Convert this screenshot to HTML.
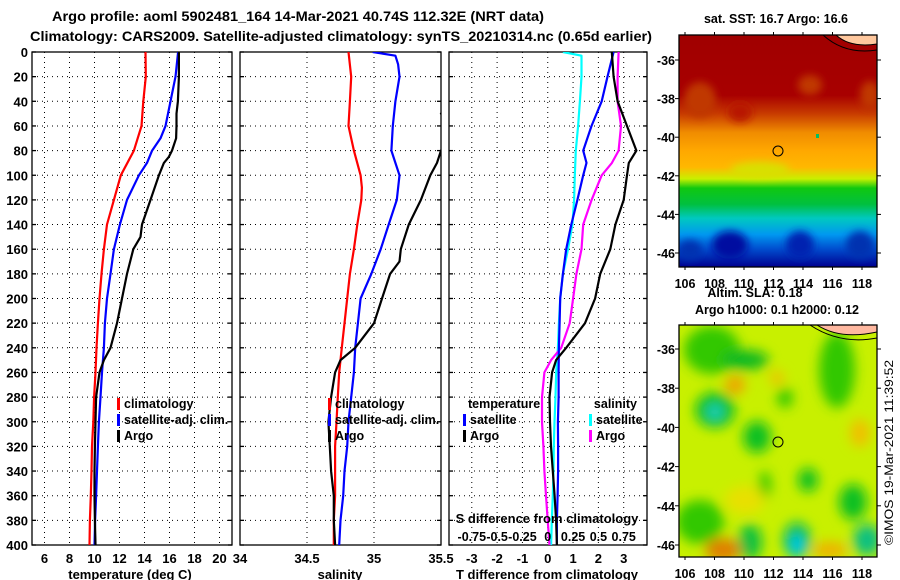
<!DOCTYPE html>
<html><head><meta charset="utf-8">
<style>
html,body{margin:0;padding:0;background:#fff;}
svg{display:block;font-family:"Liberation Sans",Arial,sans-serif;font-weight:bold;}
</style></head>
<body>
<svg id="chart" width="900" height="580" viewBox="0 0 900 580" xmlns="http://www.w3.org/2000/svg">
<defs>
  <clipPath id="c1"><rect x="32" y="52" width="200" height="493"/></clipPath>
  <clipPath id="c2"><rect x="240" y="52" width="201" height="493"/></clipPath>
  <clipPath id="c3"><rect x="449" y="52" width="198" height="493"/></clipPath>
  <clipPath id="cm1"><rect x="679" y="35" width="198" height="232"/></clipPath>
  <clipPath id="cm2"><rect x="679" y="325" width="198" height="232"/></clipPath>
  <linearGradient id="sstg" x1="0" y1="0" x2="0" y2="1">
    <stop offset="0" stop-color="#a00000"/>
    <stop offset="0.26" stop-color="#a80000"/>
    <stop offset="0.34" stop-color="#c83c00"/>
    <stop offset="0.42" stop-color="#f08c00"/>
    <stop offset="0.50" stop-color="#ffa800"/>
    <stop offset="0.57" stop-color="#ffb800"/>
    <stop offset="0.62" stop-color="#c8f000"/>
    <stop offset="0.66" stop-color="#10c810"/>
    <stop offset="0.73" stop-color="#00c040"/>
    <stop offset="0.79" stop-color="#00c8c0"/>
    <stop offset="0.86" stop-color="#0098f0"/>
    <stop offset="0.92" stop-color="#0050d0"/>
    <stop offset="1" stop-color="#000090"/>
  </linearGradient>
  <filter id="blur" x="-50%" y="-50%" width="200%" height="200%"><feGaussianBlur stdDeviation="6"/></filter>
  <filter id="blur2" x="-50%" y="-50%" width="200%" height="200%"><feGaussianBlur stdDeviation="4"/></filter>
</defs>

<text x="298" y="21" font-size="14" text-anchor="middle" textLength="492" lengthAdjust="spacingAndGlyphs">Argo profile: aoml 5902481_164 14-Mar-2021 40.74S 112.32E (NRT data)</text>
<text x="30" y="41" font-size="14" textLength="622" lengthAdjust="spacingAndGlyphs">Climatology: CARS2009. Satellite-adjusted climatology: synTS_20210314.nc (0.65d earlier)</text>

<g id="panels"></g>

<!-- SST map -->
<g>
  <text x="776" y="23" font-size="12.5" text-anchor="middle">sat. SST: 16.7 Argo: 16.6</text>
  <g clip-path="url(#cm1)">
    <rect x="679" y="35" width="198" height="232" fill="url(#sstg)"/>
    <g filter="url(#blur2)">
      <ellipse cx="700" cy="100" rx="16" ry="18" fill="#c03800"/>
      <ellipse cx="740" cy="112" rx="12" ry="10" fill="#b81800"/>
      <ellipse cx="810" cy="85" rx="12" ry="10" fill="#c03800"/>
      <ellipse cx="870" cy="95" rx="10" ry="14" fill="#c03800"/>
      <ellipse cx="760" cy="170" rx="30" ry="8" fill="#d8e000"/>
      <ellipse cx="730" cy="245" rx="18" ry="14" fill="#0010a0"/>
      <ellipse cx="800" cy="245" rx="14" ry="14" fill="#0020b0"/>
      <ellipse cx="860" cy="245" rx="14" ry="14" fill="#0030b0"/>
      <ellipse cx="690" cy="250" rx="12" ry="10" fill="#0030b0"/>
    </g>
    <path d="M836,35 Q850,48 877,44 L877,35 Z" fill="#ffc89e" stroke="#000" stroke-width="1"/>
    <path d="M823,35 Q845,55 877,50" fill="none" stroke="#000" stroke-width="1"/>
    <rect x="816" y="134" width="3" height="4" fill="#00c060"/>
  </g>
  <circle cx="778" cy="151" r="5" fill="none" stroke="#000" stroke-width="1"/>
  <rect x="679" y="35" width="198" height="232" fill="none" stroke="#000" stroke-width="1.3"/>
</g>

<text x="755" y="297" font-size="12.5" text-anchor="middle">Altim. SLA: 0.18</text>
<text x="777" y="314" font-size="12.5" text-anchor="middle">Argo h1000: 0.1 h2000: 0.12</text>

<!-- SLA map -->
<g>
  <g clip-path="url(#cm2)">
    <rect x="679" y="325" width="198" height="232" fill="#c8f000"/>
    <g filter="url(#blur)">
      <ellipse cx="712" cy="350" rx="28" ry="24" fill="#30c800"/>
      <ellipse cx="745" cy="360" rx="24" ry="10" fill="#10b820"/>
      <ellipse cx="715" cy="410" rx="20" ry="18" fill="#10c020"/>
      <ellipse cx="715" cy="412" rx="8" ry="8" fill="#20d0c0"/>
      <ellipse cx="757" cy="437" rx="14" ry="16" fill="#10c020"/>
      <ellipse cx="785" cy="398" rx="8" ry="10" fill="#30c800"/>
      <ellipse cx="837" cy="370" rx="18" ry="38" fill="#30c800"/>
      <ellipse cx="808" cy="480" rx="10" ry="12" fill="#10c020"/>
      <ellipse cx="765" cy="485" rx="6" ry="14" fill="#30c800"/>
      <ellipse cx="853" cy="502" rx="14" ry="18" fill="#10c020"/>
      <ellipse cx="700" cy="522" rx="24" ry="22" fill="#30c800"/>
      <ellipse cx="750" cy="542" rx="12" ry="18" fill="#10c040"/>
      <ellipse cx="797" cy="540" rx="14" ry="18" fill="#10c060"/>
      <ellipse cx="797" cy="545" rx="7" ry="10" fill="#00c8f0"/>
      <ellipse cx="867" cy="540" rx="14" ry="16" fill="#10c080"/>
      <ellipse cx="735" cy="385" rx="10" ry="9" fill="#f0a000"/>
      <ellipse cx="777" cy="378" rx="7" ry="7" fill="#f0c000"/>
      <ellipse cx="860" cy="433" rx="10" ry="14" fill="#f0c000"/>
      <ellipse cx="723" cy="550" rx="18" ry="12" fill="#e08000"/>
      <ellipse cx="830" cy="550" rx="18" ry="8" fill="#f0b000"/>
      <ellipse cx="745" cy="500" rx="20" ry="14" fill="#e8e000"/>
    </g>
    <path d="M817,325 Q840,340 877,332 L877,325 Z" fill="#ffb8a0" stroke="#000" stroke-width="1"/>
    <path d="M810,325 Q840,345 877,338" fill="none" stroke="#000" stroke-width="1"/>
  </g>
  <circle cx="778" cy="442" r="5" fill="none" stroke="#000" stroke-width="1"/>
  <rect x="679" y="325" width="198" height="232" fill="none" stroke="#000" stroke-width="1.3"/>
</g>

<text transform="translate(893,545) rotate(-90)" font-size="12" font-weight="normal" textLength="185" lengthAdjust="spacingAndGlyphs">©IMOS 19-Mar-2021 11:39:52</text>

<script>
// ---- depth axis (shared) ----
const depths = [0,20,40,60,80,100,120,140,160,180,200,220,240,260,280,300,320,340,360,380,400];
const depthTicks = [0,20,40,60,80,100,120,140,160,180,200,220,240,260,280,300,320,340,360,380,400];

// ---- temperature panel ----
const tempTicks = [6,8,10,12,14,16,18,20];
const tempClimDepth = [0,20,40,60,80,100,120,140,160,180,200,220,240,260,280,300,320,340,360,380,400];
const tempClim = [14.08,14.1,13.9,13.76,13.15,12.1,11.55,11.0,10.75,10.56,10.4,10.27,10.16,10.08,9.97,9.9,9.8,9.76,9.7,9.63,9.6];
const tempSatDepth = [0,20,40,60,70,80,90,100,120,140,160,180,200,220,240,260,280,300,320,340,360,380,400];
const tempSat = [16.69,16.48,16.08,15.68,15.28,14.61,14.2,13.55,12.6,12.03,11.55,11.28,11.0,10.83,10.75,10.6,10.48,10.35,10.27,10.2,10.13,10.05,10.0];
const tempArgoDepth = [0,20,40,50,60,70,80,85,90,100,120,140,150,160,180,200,220,240,250,260,280,300,320,340,360,380,400];
const tempArgo = [16.75,16.75,16.67,16.56,16.56,16.53,16.2,15.95,15.55,15.15,14.48,13.8,13.68,13.1,12.6,12.2,11.8,11.28,10.75,10.4,10.13,10.08,10.03,10.0,10.0,10.03,10.08];

// ---- salinity panel ----
const salTicks = [34,34.5,35,35.5];
const salTickLabels = ["34","34.5","35","35.5"];
const salClimDepth = [0,20,40,60,80,100,110,120,140,160,180,200,220,240,260,280,300,320,340,360,380,400];
const salClim = [34.81,34.83,34.82,34.81,34.85,34.9,34.91,34.905,34.875,34.85,34.82,34.8,34.78,34.76,34.74,34.73,34.72,34.71,34.71,34.71,34.70,34.70];
const salSatDepth = [0,3,10,20,40,60,80,90,100,120,140,160,180,200,220,240,260,280,300,320,340,360,380,400];
const salSat = [34.99,35.16,35.18,35.19,35.16,35.14,35.13,35.16,35.19,35.17,35.11,35.05,34.98,34.9,34.88,34.86,34.85,34.83,34.81,34.8,34.78,34.77,34.75,34.74];
const salArgoDepth = [0,40,50,60,80,90,100,120,140,160,170,180,200,220,240,250,260,280,300,320,340,360,380,400];
const salArgo = [35.7,35.6,35.5,35.6,35.5,35.47,35.42,35.35,35.26,35.2,35.19,35.12,35.06,35.0,34.86,34.75,34.71,34.68,34.66,34.67,34.68,34.7,34.7,34.71];

// ---- difference panel ----
const tdiffTicks = [-3,-2,-1,0,1,2,3];
const sdiffTickLabels = ["-0.75","-0.5","-0.25","0","0.25","0.5","0.75"];
const tdiffSatDepth = [0,20,40,60,80,90,100,120,140,160,180,200,220,240,260,280,300,320,340,360,380,400];
const tdiffSat = [2.6,2.36,2.13,1.73,1.4,1.53,1.4,1.17,0.93,0.73,0.6,0.49,0.47,0.44,0.43,0.43,0.4,0.41,0.41,0.39,0.36,0.36];
const tdiffArgoDepth = [0,20,40,60,80,90,100,120,140,160,180,200,220,240,250,260,280,300,320,340,360,380,400];
const tdiffArgo = [2.53,2.6,2.76,3.13,3.5,3.2,3.13,3.0,2.67,2.47,2.07,1.87,1.47,0.73,0.33,0.17,0.07,0.09,0.13,0.2,0.27,0.33,0.36];
const sdiffSatDepth = [0,3,20,40,60,80,100,120,140,160,180,200,220,240,260,280,300,320,340,360,380,400];
const sdiffSat = [0.15,0.333,0.333,0.317,0.3,0.277,0.267,0.26,0.243,0.2,0.15,0.123,0.11,0.1,0.083,0.077,0.067,0.06,0.057,0.05,0.04,0.033];
const sdiffArgoDepth = [0,20,40,60,80,90,100,120,140,160,180,200,220,240,250,260,280,300,320,340,360,380,400];
const sdiffArgo = [0.7,0.69,0.69,0.723,0.7,0.633,0.533,0.433,0.35,0.333,0.283,0.25,0.217,0.133,0.033,-0.033,-0.057,-0.057,-0.043,-0.033,-0.017,0,0.017];

// ---- map axes ----
const latTicks = [-36,-38,-40,-42,-44,-46];
const lonTicks = [106,108,110,112,114,116,118];

const NS = "http://www.w3.org/2000/svg";
const root = document.getElementById('panels');
const svg = document.getElementById('chart');
function mk(tag, attrs, parent){ const e=document.createElementNS(NS,tag); for(const k in attrs) e.setAttribute(k,attrs[k]); (parent||root).appendChild(e); return e; }

const Y0=52, Y1=545;
function yD(d){ return Y0 + d/400*(Y1-Y0); }

const panels = [
  {name:'temperature', x0:32, x1:232, v0:5, v1:21, clip:'c1'},
  {name:'salinity', x0:240, x1:441, v0:34, v1:35.5, clip:'c2'},
  {name:'difference', x0:449, x1:647, v0:-3.9, v1:3.92, clip:'c3'}
];
function sx(p,v){ return p.x0 + (v-p.v0)/(p.v1-p.v0)*(p.x1-p.x0); }

panels.forEach((p,i)=>{
  const g = mk('g',{});
  
  
  depthTicks.forEach(d=>{
    if(d>0 && d<400){
      const l = mk('line',{x1:p.x0,x2:p.x1,y1:yD(d),y2:yD(d),stroke:'#000','stroke-width':1,'stroke-dasharray':'1,4'},g);
      
      
    }
    mk('line',{x1:p.x0,x2:p.x0+4,y1:yD(d),y2:yD(d),stroke:'#000','stroke-width':1.3},g);
    mk('line',{x1:p.x1-4,x2:p.x1,y1:yD(d),y2:yD(d),stroke:'#000','stroke-width':1.3},g);
  });
  let vg = i===0 ? tempTicks : i===1 ? [34.5,35] : tdiffTicks;
  vg.forEach(v=>{
    const l = mk('line',{x1:sx(p,v),x2:sx(p,v),y1:Y0,y2:Y1,stroke:'#000','stroke-width':1,'stroke-dasharray':'1,4'},g);
    
    
  });
  const fr = mk('rect',{x:p.x0,y:Y0,width:p.x1-p.x0,height:Y1-Y0,fill:'none',stroke:'#000','stroke-width':1.3},g);
  
  
  p.g = g;
});

depthTicks.forEach(d=>{
  const t = mk('text',{x:28,y:yD(d)+5,'font-size':13,'text-anchor':'end'});
  t.textContent = d;
  
  
});

function line(p, vals, ds, color, name){
  const pts = vals.map((v,k)=> sx(p,v).toFixed(1)+','+yD(ds[k]).toFixed(1)).join(' ');
  const pl = mk('polyline',{points:pts,fill:'none',stroke:color,'stroke-width':2.2,'clip-path':'url(#'+p.clip+')','stroke-linejoin':'round'},p.g);
  
  
}
const P1=panels[0],P2=panels[1],P3=panels[2];
line(P1,tempClim,tempClimDepth,'#ff0000','temp-climatology-line');
line(P1,tempSat,tempSatDepth,'#0000ff','temp-satellite-line');
line(P1,tempArgo,tempArgoDepth,'#000000','temp-argo-line');
line(P2,salClim,salClimDepth,'#ff0000','sal-climatology-line');
line(P2,salSat,salSatDepth,'#0000ff','sal-satellite-line');
line(P2,salArgo,salArgoDepth,'#000000','sal-argo-line');
line(P3,sdiffSat.map(v=>v*4),sdiffSatDepth,'#00ffff','sdiff-satellite-line');
line(P3,sdiffArgo.map(v=>v*4),sdiffArgoDepth,'#ff00ff','sdiff-argo-line');
line(P3,tdiffSat,tdiffSatDepth,'#0000ff','tdiff-satellite-line');
line(P3,tdiffArgo,tdiffArgoDepth,'#000000','tdiff-argo-line');

function xlab(x,txt,name,anchor){ const t=mk('text',{x:x,y:563,'font-size':13,'text-anchor':anchor||'middle'}); t.textContent=txt;   }
tempTicks.forEach(v=> xlab(sx(P1,v), v, 'temp-tick-label'));
salTicks.forEach((v,k)=> xlab(sx(P2,v), salTickLabels[k], 'sal-tick-label'));
tdiffTicks.forEach(v=> xlab(sx(P3,v), v, 'tdiff-tick-label'));
sdiffTickLabels.forEach((s,k)=>{
  const t=mk('text',{x:sx(P3,tdiffTicks[k]),y:541,'font-size':12.5,'text-anchor':'middle'});
  t.textContent=s;
  
  
});
function title(x,y,txt,name){ const t=mk('text',{x:x,y:y,'font-size':13,'text-anchor':'middle'}); t.textContent=txt;   }
title(130,579,'temperature (deg C)','temperature-axis-title');
title(340,579,'salinity','salinity-axis-title');
title(547,579,'T difference from climatology','tdiff-axis-title');
title(547,523,'S difference from climatology','sdiff-axis-title');

function leg(x,y,color,txt,name){
  const b=mk('rect',{x:x,y:y-10,width:3,height:12,fill:color});
  
  
  const t=mk('text',{x:x+7,y:y,'font-size':12.5}); t.textContent=txt;
  
  
}
leg(117,408,'#ff0000','climatology','temp-legend-climatology');
leg(117,424,'#0000ff','satellite-adj. clim.','temp-legend-satellite');
leg(117,440,'#000000','Argo','temp-legend-argo');
leg(328,408,'#ff0000','climatology','sal-legend-climatology');
leg(328,424,'#0000ff','satellite-adj. clim.','sal-legend-satellite');
leg(328,440,'#000000','Argo','sal-legend-argo');
(function(){ const t=mk('text',{x:468,y:408,'font-size':12.5}); t.textContent='temperature';  
 const s=mk('text',{x:637,y:408,'font-size':12.5,'text-anchor':'end'}); s.textContent='salinity';   })();
leg(463,424,'#0000ff','satellite','diff-legend-t-satellite');
leg(463,440,'#000000','Argo','diff-legend-t-argo');
leg(589,424,'#00ffff','satellite','diff-legend-s-satellite');
leg(589,440,'#ff00ff','Argo','diff-legend-s-argo');

function mapAxes(top, bottom, latY0, latStep, labY, nm){
  latTicks.forEach((la,k)=>{
    const y = latY0 + k*latStep;
    const t=mk('text',{x:675,y:y+5,'font-size':12.5,'text-anchor':'end'},svg); t.textContent=la;
    
    
    mk('line',{x1:679,x2:675,y1:y,y2:y,stroke:'#000'},svg);
    mk('line',{x1:877,x2:881,y1:y,y2:y,stroke:'#000'},svg);
  });
  lonTicks.forEach((lo,k)=>{
    const x = 685 + k*14.75*2;
    const t=mk('text',{x:x,y:labY,'font-size':12.5,'text-anchor':'middle'},svg); t.textContent=lo;
    
    
    mk('line',{x1:x,x2:x,y1:top,y2:top-3,stroke:'#000'},svg);
    mk('line',{x1:x,x2:x,y1:bottom,y2:bottom+3,stroke:'#000'},svg);
  });
}
mapAxes(35,267,60,38.6,288,'sst-map');
mapAxes(325,557,349,39.2,578,'sla-map');
</script>
</svg>
</body></html>
